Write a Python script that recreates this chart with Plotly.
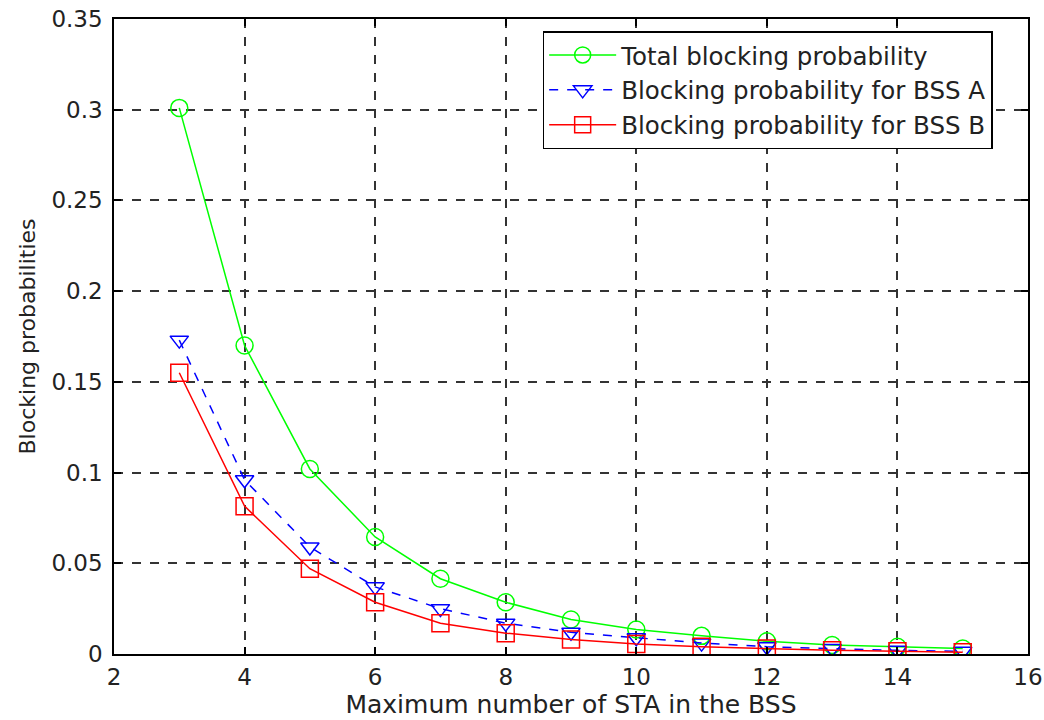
import plotly.graph_objects as go

sta = [3, 4, 5, 6, 7, 8, 9, 10, 11, 12, 13, 14, 15]
total_blocking = [0.301, 0.170, 0.102, 0.0645, 0.0415, 0.0285, 0.0190, 0.0135, 0.0100, 0.0070, 0.0050, 0.0040, 0.0030]
bss_a_blocking = [0.173, 0.096, 0.059, 0.037, 0.025, 0.017, 0.012, 0.009, 0.006, 0.004, 0.003, 0.002, 0.0015]
bss_b_blocking = [0.155, 0.0815, 0.047, 0.0285, 0.0170, 0.0115, 0.0080, 0.0055, 0.0040, 0.0030, 0.0020, 0.0015, 0.0010]

names = ["Total blocking probability", "Blocking probability for BSS A", "Blocking probability for BSS B"]
x_ticks = [2, 4, 6, 8, 10, 12, 14, 16]
y_ticks = [0, 0.05, 0.1, 0.15, 0.2, 0.25, 0.3, 0.35]
y_tick_labels = ["0", "0.05", "0.1", "0.15", "0.2", "0.25", "0.3", "0.35"]

fig = go.Figure()
fig.add_trace(go.Scatter(
    x=sta, y=total_blocking, name=names[0], mode="lines+markers",
    line=dict(color="#00ff00", width=1.5),
    marker=dict(symbol="circle-open", size=17, color="#00ff00", line=dict(width=1.5)),
    legendgroup="g1"))
fig.add_trace(go.Scatter(
    x=sta, y=bss_a_blocking, name=names[1], mode="lines+markers",
    line=dict(color="#0000ff", width=1.5, dash="dash"),
    marker=dict(symbol="triangle-down-open", size=16, color="#0000ff", line=dict(width=1.5)),
    legendgroup="g2"))
fig.add_trace(go.Scatter(
    x=sta, y=bss_b_blocking, name=names[2], mode="lines+markers",
    line=dict(color="#ff0000", width=1.5),
    marker=dict(symbol="square-open", size=17, color="#ff0000", line=dict(width=1.5)),
    legendgroup="g3"))

axis_common = dict(
    showline=True, linecolor="black", linewidth=1.5, mirror="ticks",
    ticks="inside", ticklen=7, tickcolor="black", tickwidth=1.5,
    showgrid=True, gridcolor="#333333", gridwidth=1.5, griddash="dash",
    zeroline=False, automargin=False, ticklabeloverflow="allow",
    tickfont=dict(family="DejaVu Sans", size=23, color="#222222"),
)

fig.update_xaxes(range=[2, 16], tickmode="array", tickvals=x_ticks,
                 ticktext=[str(v) for v in x_ticks], ticklabelstandoff=2,
                 title=dict(text="Maximum number of STA in the BSS", standoff=2,
                            font=dict(family="DejaVu Sans", size=25, color="#222222")),
                 **axis_common)
fig.update_yaxes(range=[0, 0.35], tickmode="array",
                 tickvals=y_ticks, ticktext=y_tick_labels, ticklabelstandoff=5,
                 title=dict(text="Blocking probabilities", standoff=10,
                            font=dict(family="DejaVu Sans", size=22, color="#222222")),
                 **axis_common)

fig.update_layout(
    width=1044, height=720,
    margin=dict(l=114, r=16, t=19, b=66),
    paper_bgcolor="white", plot_bgcolor="white",
    legend=dict(x=0.469, y=0.981, xanchor="left", yanchor="top",
                bgcolor="white", bordercolor="black", borderwidth=1.5,
                font=dict(family="DejaVu Sans", size=24.5, color="#222222"),
                traceorder="grouped", tracegroupgap=0, itemwidth=67),
    showlegend=True,
)

fig.write_html("out.html", config={"displayModeBar": False},
               post_script="document.body.style.margin='0';document.body.style.overflow='hidden';")
